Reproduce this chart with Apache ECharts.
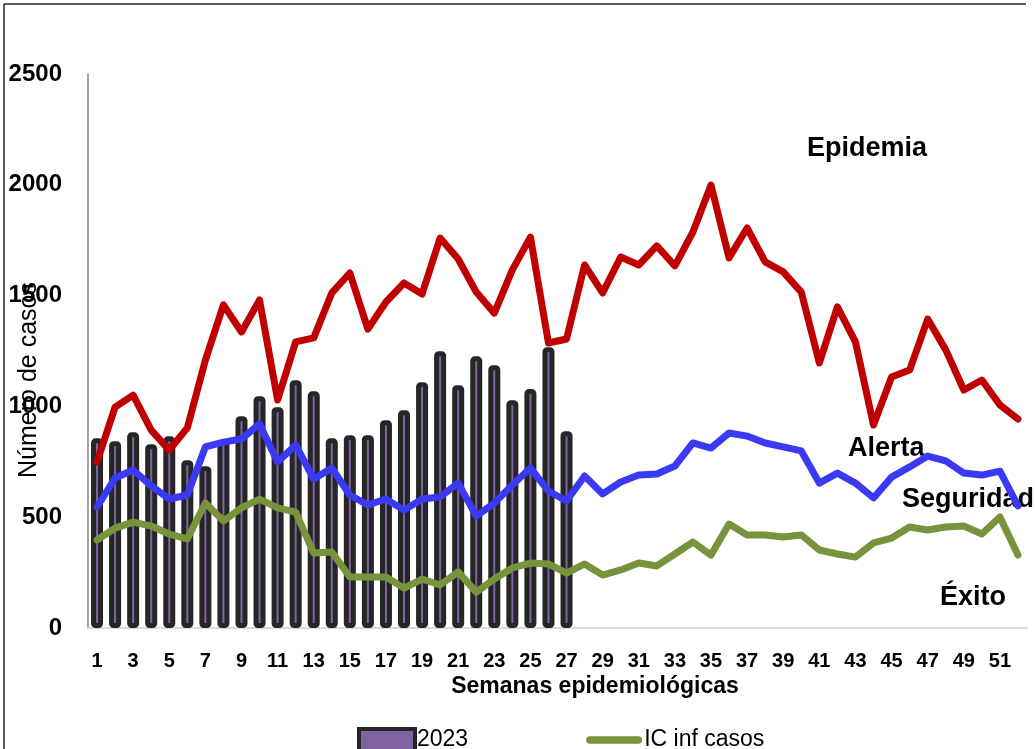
<!DOCTYPE html>
<html lang="es">
<head>
    <meta charset="UTF-8">
    <title>Canal endémico 2023</title>
    <style>
        html, body { margin: 0; padding: 0; background: #fff; }
        #main { width: 1035px; height: 749px; }
    </style>
</head>
<body>
<div id="main"></div>

<script src="https://cdn.jsdelivr.net/npm/echarts@6/dist/echarts.min.js"></script>

<script>
// semanas epidemiológicas 1..52
var semanas = [];
for (var i = 1; i <= 52; i++) semanas.push(String(i));

// casos 2023 (semanas 1-27)
var casos2023 = [856, 843, 883, 829, 865, 757, 730, 847, 956, 1046, 996, 1118, 1068,
    856, 870, 870, 938, 983, 1109, 1249, 1096, 1226, 1186, 1028, 1078, 1267, 888];

// zona de epidemia (límite superior)
var epidemia = [749, 997, 1051, 893, 803, 903, 1209, 1458, 1336, 1480, 1029, 1291, 1309,
    1512, 1602, 1349, 1471, 1557, 1507, 1760, 1665, 1516, 1421, 1616, 1764, 1286, 1304,
    1638, 1512, 1674, 1638, 1724, 1634, 1787, 1999, 1670, 1805, 1652, 1607, 1516, 1196,
    1449, 1291, 916, 1133, 1164, 1394, 1255, 1074, 1119, 1006, 943];

// zona de alerta
var alerta = [546, 677, 713, 641, 582, 600, 817, 839, 853, 921, 749, 826, 672,
    722, 600, 555, 582, 532, 582, 591, 654, 505, 564, 645, 722, 618, 573,
    686, 605, 659, 690, 695, 731, 835, 812, 880, 866, 835, 817, 799, 654,
    699, 654, 587, 681, 727, 776, 754, 699, 690, 708, 551];

// IC inferior casos
var icInf = [397, 451, 478, 460, 424, 402, 564, 483, 542, 582, 542, 523, 338,
    343, 230, 230, 230, 180, 221, 194, 253, 162, 221, 271, 293, 289, 248,
    289, 239, 262, 293, 280, 334, 388, 329, 469, 420, 420, 411, 420, 352,
    334, 320, 384, 406, 456, 442, 456, 460, 424, 501, 329];

var yTicks = { min: 0, max: 2500, interval: 500 };

var FONT = 'Liberation Sans';

var myChart = echarts.init(document.getElementById('main'), null, { renderer: 'canvas' });

function lineSerie(name, data, color) {
    return {
        name: name,
        type: 'line',
        data: data,
        showSymbol: false,
        symbol: 'none',
        z: 3,
        lineStyle: { color: color, width: 7, cap: 'round', join: 'round' },
        itemStyle: { color: color }
    };
}

myChart.setOption({
    backgroundColor: '#fff',
    animation: false,
    grid: { left: 88, right: 8, top: 74, bottom: 121, containLabel: false },
    legend: {
        left: 352,
        top: 722,
        itemWidth: 56,
        itemHeight: 22,
        itemGap: 118,
        textStyle: { fontFamily: FONT, fontSize: 23, color: '#000', padding: [0, 0, 0, -3] },
        data: [
            { name: '2023', icon: 'rect', itemStyle: { borderWidth: 4, borderColor: '#262626' } },
            { name: 'IC inf casos', icon: 'path://M4,0 H56 A4,4 0 0 1 56,8 H4 A4,4 0 0 1 4,0 Z' }
        ]
    },
    xAxis: {
        type: 'category',
        data: semanas,
        boundaryGap: true,
        axisLine: { lineStyle: { color: '#d9d9d9', width: 2 } },
        axisTick: { show: false },
        axisLabel: {
            interval: 1,
            margin: 23,
            fontFamily: FONT,
            fontSize: 20,
            fontWeight: 'bold',
            color: '#000'
        },
        splitLine: { show: false }
    },
    yAxis: {
        type: 'value',
        min: yTicks.min,
        max: yTicks.max,
        interval: yTicks.interval,
        axisLine: { show: true, lineStyle: { color: '#a6a6a6', width: 2 } },
        axisTick: { show: false },
        splitLine: { show: false },
        axisLabel: {
            margin: 26,
            fontFamily: FONT,
            fontSize: 24,
            fontWeight: 'bold',
            color: '#000',
            formatter: function (v) { return String(v); }
        }
    },
    series: [
        {
            name: '2023',
            type: 'bar',
            data: casos2023,
            barWidth: 12,
            z: 2,
            itemStyle: {
                color: '#8064a2',
                borderColor: '#262626',
                borderWidth: 5,
                borderRadius: 2
            }
        },
        lineSerie('Epidemia', epidemia, '#c00000'),
        lineSerie('Alerta', alerta, '#3a3af5'),
        lineSerie('IC inf casos', icInf, '#77933c')
    ],
    graphic: [
        // marco
        { type: 'line', shape: { x1: 4, y1: 4, x2: 1026, y2: 4 }, style: { stroke: '#222', lineWidth: 1.5 } },
        { type: 'line', shape: { x1: 4, y1: 4, x2: 4, y2: 760 }, style: { stroke: '#222', lineWidth: 1.5 } },
        // título eje Y
        {
            type: 'text', x: 29, y: 380, rotation: Math.PI / 2,
            style: { text: 'Número de casos', fontFamily: FONT, fontSize: 25, fill: '#000', align: 'center', verticalAlign: 'middle' }
        },
        // título eje X
        {
            type: 'text', x: 595, y: 687,
            style: { text: 'Semanas epidemiológicas', fontFamily: FONT, fontSize: 23, fontWeight: 'bold', fill: '#000', align: 'center', verticalAlign: 'middle' }
        },
        // zonas
        { type: 'text', x: 807, y: 149, style: { text: 'Epidemia', fontFamily: FONT, fontSize: 27, fontWeight: 'bold', fill: '#000', verticalAlign: 'middle' } },
        { type: 'text', x: 848, y: 449, style: { text: 'Alerta', fontFamily: FONT, fontSize: 27, fontWeight: 'bold', fill: '#000', verticalAlign: 'middle' } },
        { type: 'text', x: 902, y: 500, style: { text: 'Seguridad', fontFamily: FONT, fontSize: 27, fontWeight: 'bold', fill: '#000', verticalAlign: 'middle' } },
        { type: 'text', x: 940, y: 598, style: { text: 'Éxito', fontFamily: FONT, fontSize: 27, fontWeight: 'bold', fill: '#000', verticalAlign: 'middle' } }
    ]
});
</script>
</body>
</html>
